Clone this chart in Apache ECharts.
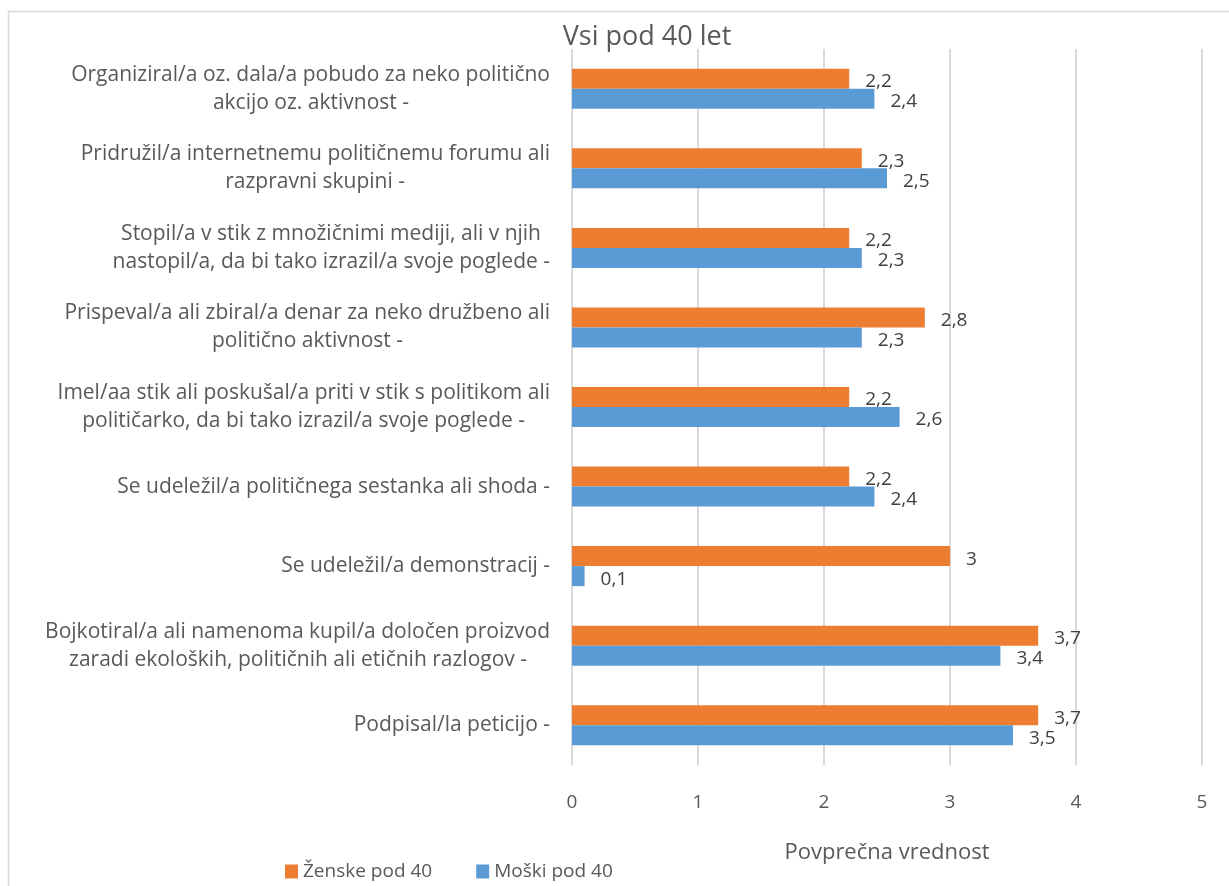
<!DOCTYPE html>
<html>
<head>
<meta charset="utf-8">
<script src="https://cdn.jsdelivr.net/npm/echarts@6/dist/echarts.min.js"></script>
<style>
  html, body { margin: 0; padding: 0; background: #fff; }
  #main { width: 1229px; height: 886px; }
</style>
</head>
<body>
<div id="main"></div>
<script>
// kategorije (od zgoraj navzdol)
var categories = [
  'Organiziral/a oz. dala/a pobudo za neko politično\nakcijo oz. aktivnost -',
  'Pridružil/a internetnemu političnemu forumu ali\nrazpravni skupini -',
  'Stopil/a v stik z množičnimi mediji, ali v njih\nnastopil/a, da bi tako izrazil/a svoje poglede -',
  'Prispeval/a ali zbiral/a denar za neko družbeno ali\npolitično aktivnost -',
  'Imel/aa stik ali poskušal/a priti v stik s politikom ali\npolitičarko, da bi tako izrazil/a svoje poglede -',
  'Se udeležil/a političnega sestanka ali shoda -',
  'Se udeležil/a demonstracij -',
  'Bojkotiral/a ali namenoma kupil/a določen proizvod\nzaradi ekoloških, političnih ali etičnih razlogov -',
  'Podpisal/la peticijo -'
]
// Ženske pod 40
var zenske = [2.2, 2.3, 2.2, 2.8, 2.2, 2.2, 3, 3.7, 3.7]
// Moški pod 40
var moski = [2.4, 2.5, 2.3, 2.3, 2.6, 2.4, 0.1, 3.4, 3.5]
var seriesNames = ['Ženske pod 40', 'Moški pod 40']
var xTicks = [0, 1, 2, 3, 4, 5]

var font = 'Open Sans'
var gray = '#595959'
var labelSize = 21

// vrstice v oznakah so centrirane znotraj bloka -> desni odmik za krajše vrstice
var ctx = document.createElement('canvas').getContext('2d')
ctx.font = labelSize + 'px "' + font + '"'
var rich = {}
var labelMap = {}
var n = 0
categories.forEach(function (cat) {
  var lines = cat.split('\n')
  var widths = lines.map(function (l) { return ctx.measureText(l).width })
  var maxW = Math.max.apply(null, widths)
  labelMap[cat] = lines.map(function (l, i) {
    var key = 'l' + (n++)
    rich[key] = {
      fontFamily: font, fontSize: labelSize, color: gray, lineHeight: 28,
      padding: [0, Math.round((maxW - widths[i]) / 2), 0, 0]
    }
    return '{' + key + '|' + l + '}'
  }).join('\n')
})

var chart = echarts.init(document.getElementById('main'))

// vrednosti z decimalno vejico
function comma(p) {
  return String(p.value).replace('.', ',')
}

var option = {
  backgroundColor: '#fff',
  animation: false,
  textStyle: { fontFamily: font },
  title: {
    text: 'Vsi pod 40 let',
    left: 642,
    textAlign: 'center',
    top: 19,
    textStyle: { fontFamily: font, fontSize: 27, fontWeight: 'normal', color: gray }
  },
  graphic: [{
    type: 'rect',
    shape: { x: 8.5, y: 11.5, width: 1300, height: 900 },
    style: { fill: 'none', stroke: '#d9d9d9', lineWidth: 1.5 },
    silent: true
  }],
  legend: {
    left: 280,
    top: 857,
    itemWidth: 13,
    itemHeight: 14,
    itemGap: 44,
    icon: 'rect',
    data: seriesNames,
    textStyle: { fontFamily: font, fontSize: 19, color: gray, padding: [0, 0, 0, 0] }
  },
  grid: { left: 572, right: 27, top: 49, bottom: 121 },
  xAxis: {
    type: 'value',
    min: xTicks[0],
    max: xTicks[xTicks.length - 1],
    interval: 1,
    name: 'Povprečna vrednost',
    nameLocation: 'middle',
    nameGap: 77,
    nameTextStyle: { fontFamily: font, fontSize: 22, color: gray },
    axisLine: { show: false },
    axisTick: { show: false },
    axisLabel: { fontFamily: font, fontSize: 19, color: gray, margin: 28 },
    splitLine: { lineStyle: { color: '#d9d9d9', width: 2 } }
  },
  yAxis: {
    type: 'category',
    inverse: true,
    data: categories,
    axisLine: { show: false },
    axisTick: { show: false },
    axisLabel: {
      margin: 22,
      fontFamily: font,
      fontSize: labelSize,
      color: gray,
      lineHeight: 28,
      formatter: function (v) { return labelMap[v] },
      rich: rich
    }
  },
  series: [
    {
      name: seriesNames[0],
      type: 'bar',
      data: zenske,
      barWidth: 20,
      barGap: '0%',
      itemStyle: { color: '#ED7D31' },
      label: { show: true, position: 'right', distance: 16, offset: [0, 3], fontFamily: font, fontSize: 19, color: '#404040', formatter: comma }
    },
    {
      name: seriesNames[1],
      type: 'bar',
      data: moski,
      barWidth: 20,
      barGap: '0%',
      itemStyle: { color: '#5B9BD5' },
      label: { show: true, position: 'right', distance: 16, offset: [0, 3], fontFamily: font, fontSize: 19, color: '#404040', formatter: comma }
    }
  ]
}
chart.setOption(option)
</script>
</body>
</html>
